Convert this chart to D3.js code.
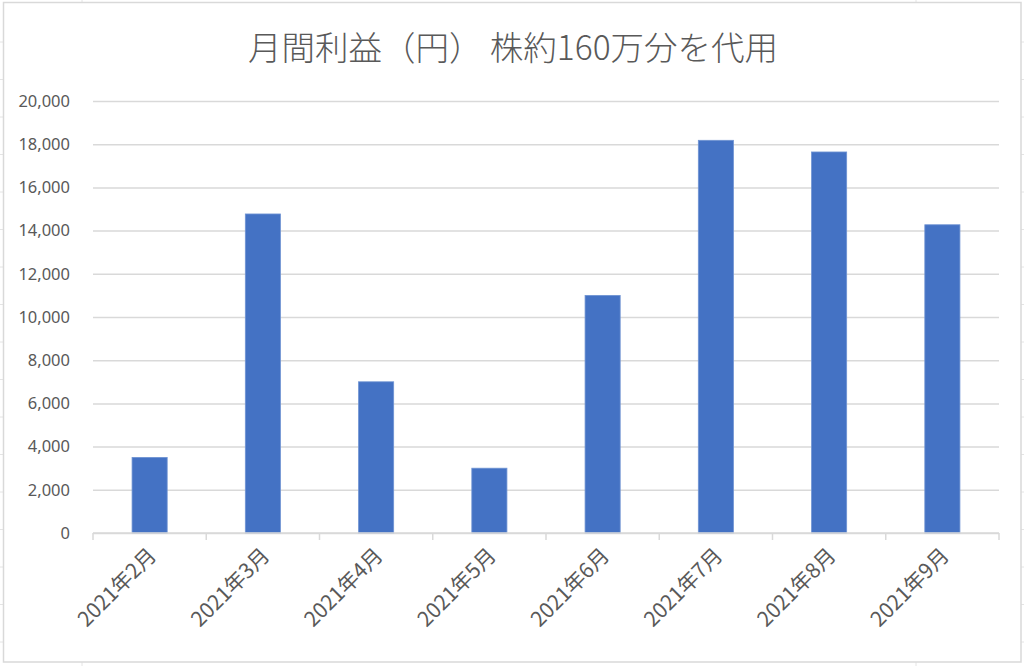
<!DOCTYPE html>
<html>
<head>
<meta charset="utf-8">
<script src="https://cdn.jsdelivr.net/npm/d3@7"></script>
<style>
  html, body { margin: 0; padding: 0; background: #fff; }
  svg { display: block; }
</style>
</head>
<body>
<svg id="chart" width="1024" height="666"></svg>
<script>
const title = "月間利益（円）  株約160万分を代用";
const categories = ["2021年2月", "2021年3月", "2021年4月", "2021年5月", "2021年6月", "2021年7月", "2021年8月", "2021年9月"];
const profits = [3500, 14770, 7000, 3000, 11000, 18180, 17640, 14270];
const yTickValues = [0, 2000, 4000, 6000, 8000, 10000, 12000, 14000, 16000, 18000, 20000];

const W = 1024, H = 666;
const svg = d3.select("#chart");
const textColor = "#595959";
const gridColor = "#d9d9d9";

// spreadsheet background cells outside the chart
const bg = svg.append("g");
[82, 916].forEach(x => {
  bg.append("line").attr("x1", x).attr("x2", x).attr("y1", 0).attr("y2", 3).attr("stroke", "#e4e4e4");
  bg.append("line").attr("x1", x).attr("x2", x).attr("y1", 662).attr("y2", 666).attr("stroke", "#e4e4e4");
});
d3.range(42, 666, 37.5).forEach(y => {
  bg.append("line").attr("x1", 0).attr("x2", 3).attr("y1", y).attr("y2", y).attr("stroke", "#e4e4e4");
  bg.append("line").attr("x1", 1021).attr("x2", 1024).attr("y1", y).attr("y2", y).attr("stroke", "#e4e4e4");
});

// chart area border
svg.append("rect")
  .attr("x", 3.5).attr("y", 2.5).attr("width", 1017.5).attr("height", 659.5)
  .attr("fill", "#fff").attr("stroke", "#d9d9d9").attr("stroke-width", 1.5);

const x = d3.scaleBand().domain(categories).range([93, 999]).paddingInner(0.69).paddingOuter(0.345);
const y = d3.scaleLinear().domain([0, 20000]).range([533, 101]);

// title
svg.append("text")
  .attr("x", 513).attr("y", 60)
  .attr("text-anchor", "middle")
  .attr("font-family", "'Noto Sans CJK JP', sans-serif")
  .attr("font-weight", 300)
  .attr("font-size", 33.5)
  .attr("fill", textColor)
  .text(title);

// gridlines + y axis labels
const yAxis = d3.axisLeft(y)
  .tickValues(yTickValues)
  .tickSize(-(999 - 93))
  .tickPadding(23)
  .tickFormat(d3.format(","));
const gy = svg.append("g").attr("transform", "translate(93,0)").call(yAxis);
gy.select(".domain").remove();
gy.selectAll(".tick line").attr("stroke", gridColor).attr("stroke-width", 1.5);
gy.selectAll(".tick text")
  .attr("fill", textColor)
  .attr("font-family", "'Noto Sans', sans-serif")
  .attr("font-size", 16.5);

// bars
svg.append("g").selectAll("rect")
  .data(profits)
  .join("rect")
  .attr("x", (d, i) => x(categories[i]))
  .attr("y", d => y(d))
  .attr("width", x.bandwidth())
  .attr("height", d => y(0) - y(d))
  .attr("fill", "#4472c4")
  .attr("stroke", "#6f93d3")
  .attr("stroke-width", 0.8);

// x axis line and boundary ticks
const step = x.step();
const gx = svg.append("g");
gx.append("line")
  .attr("x1", 93).attr("x2", 999).attr("y1", y(0)).attr("y2", y(0))
  .attr("stroke", gridColor).attr("stroke-width", 1.5);
gx.selectAll("line.tk")
  .data(d3.range(categories.length + 1))
  .join("line")
  .attr("class", "tk")
  .attr("x1", i => 93 + i * step).attr("x2", i => 93 + i * step)
  .attr("y1", y(0)).attr("y2", y(0) + 7)
  .attr("stroke", gridColor).attr("stroke-width", 1.5);

// x labels rotated
gx.selectAll("text")
  .data(categories)
  .join("text")
  .attr("transform", d => `translate(${x(d) + x.bandwidth() / 2 + 8},${y(0) + 24}) rotate(-45)`)
  .attr("text-anchor", "end")
  .attr("font-family", "'Noto Sans CJK JP', sans-serif")
  .attr("font-size", 21)
  .attr("fill", textColor)
  .text(d => d);
</script>
</body>
</html>
